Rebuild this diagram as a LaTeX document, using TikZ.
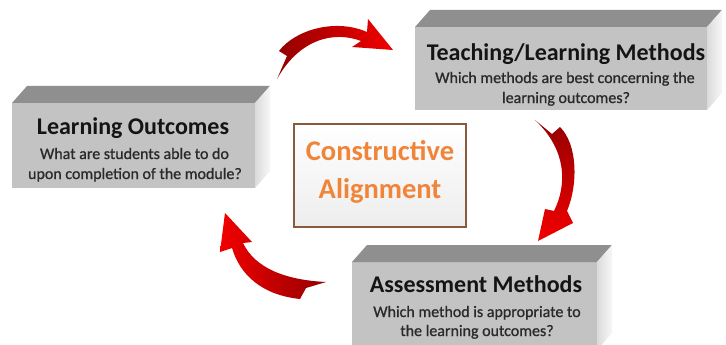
\documentclass[tikz,border=0pt]{standalone}
\usepackage{fontspec}
\setmainfont{Carlito}
\newfontfamily\subfont[FakeBold=0.9]{Carlito}
\definecolor{topgray}{HTML}{8F8F8F}
\definecolor{frontgray}{HTML}{C3C3C3}
\definecolor{sidegray}{HTML}{DADADA}
\definecolor{caorange}{HTML}{F0853A}
\definecolor{cabrown}{HTML}{8A5A3C}
\definecolor{arrdark}{HTML}{940000}
\definecolor{arrlight}{HTML}{F20000}
\definecolor{subtxt}{HTML}{2A2A2A}
\tikzset{
  frontface/.style={fill=frontgray, inner sep=0pt, outer sep=0pt},
  sideface/.style={left color=sidegray, right color=white!94!gray},
  titletxt/.style={font=\bfseries\fontsize{24}{28}\selectfont, text=black!92, anchor=base, inner sep=0pt},
  subtxt/.style={font=\subfont\fontsize{16}{20}\selectfont, text=subtxt, anchor=base, inner sep=0pt},
  catxt/.style={font=\bfseries\fontsize{28.5}{34}\selectfont, text=caorange, anchor=base, inner sep=0pt},
}
\newcommand\cubefaces[1]{%
  \fill[topgray] (#1.north west) -- ++(15,-17) -- ([shift={(15,-17)}]#1.north east) -- (#1.north east) -- cycle;
  \shade[sideface] (#1.north east) -- ++(15,-17) -- ([shift={(15,-17)}]#1.south east) -- (#1.south east) -- cycle;
}
\begin{document}
\begin{tikzpicture}[x=1pt,y=-1pt]
\useasboundingbox (0,0) rectangle (726,345);
\clip (0,0) rectangle (726,345);
\fill[white] (0,0) rectangle (726,345);

% 3D blocks
\node[frontface, minimum width=243pt, minimum height=85pt] (lo) at (133.5,145.5) {};
\cubefaces{lo}
\node[frontface, minimum width=292pt, minimum height=83pt] (tl) at (561,68.5) {};
\cubefaces{tl}
\node[frontface, minimum width=245pt, minimum height=88pt] (am) at (474.5,306) {};
\cubefaces{am}

% block texts
\node[titletxt] (lot) at (133,135) {Learning Outcomes};
\node[subtxt] (los1) at (134.5,159) {What are students able to do};
\node[subtxt] (los2) at (135,179) {upon completion of the module?};
\node[titletxt] (tlt) at (566,61) {Teaching/Learning Methods};
\node[subtxt] (tls1) at (565,83) {Which methods are best concerning the};
\node[subtxt] (tls2) at (566,103) {learning outcomes?};
\node[titletxt] (amt) at (476,292) {Assessment Methods};
\node[subtxt] (ams1) at (477,317) {Which method is appropriate to};
\node[subtxt] (ams2) at (477,336) {the learning outcomes?};

% centre box
\node[draw=cabrown, line width=1.3pt, top color=white, bottom color=gray!14, minimum width=172pt, minimum height=103pt, inner sep=0pt] (ca) at (380,175.5) {};
\node[catxt] (ca1) at (380,160) {Constructive};
\node[catxt] (ca2) at (380,198) {Alignment};

% curved arrows
\shade[left color=arrdark, right color=arrlight]
  (279,51) .. controls (295,30) and (335,18) .. (367,32)
  -- (368,19) -- (393,50) -- (352,47) -- (361,41)
  .. controls (335,31) and (300,38) .. (277,79)
  -- (287,56) -- cycle;
\shade[top color=arrdark, bottom color=arrlight]
  (535,120) -- (552,134) -- (560,127)
  .. controls (578,145) and (578,185) .. (567,211)
  -- (573,223) -- (538,241) -- (545,209) -- (554,211)
  .. controls (567,185) and (567,150) .. (535,120) -- cycle;
\shade[left color=arrlight, right color=arrdark]
  (225,213) -- (252,242) -- (243,243)
  .. controls (255,268) and (285,280) .. (326,282)
  -- (306,288) -- (300,299)
  .. controls (262,295) and (240,275) .. (232,248)
  -- (220,252) -- cycle;
\end{tikzpicture}
\end{document}
